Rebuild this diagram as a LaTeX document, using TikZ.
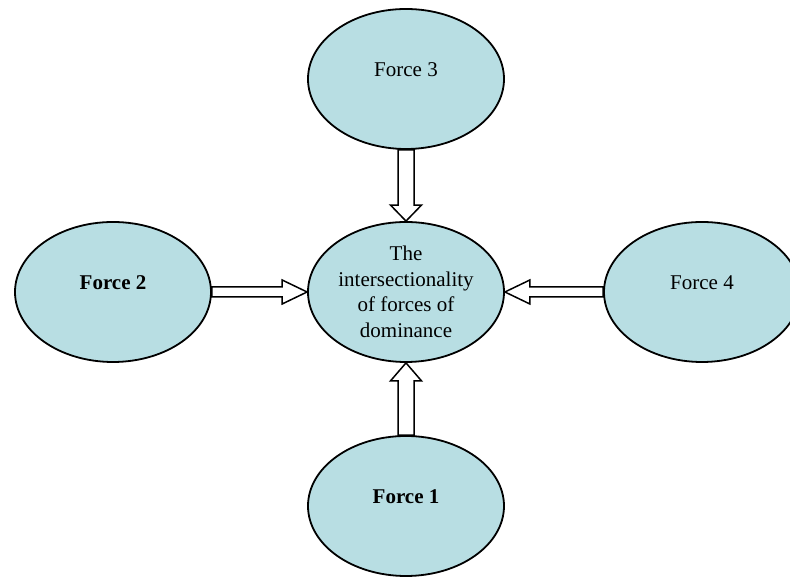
\documentclass[tikz,border=0pt]{standalone}
\usepackage{fontspec}
\setmainfont{Liberation Serif}
\usetikzlibrary{shapes.geometric,calc}

\definecolor{blobfill}{HTML}{B8DEE3}

\tikzset{
  blob/.style={ellipse, draw=black, line width=1.8pt, fill=blobfill,
    minimum width=196pt, minimum height=140pt, inner sep=0pt,
    font=\fontsize{21}{25.5}\selectfont},
  forcelbl/.style={text depth=18pt},
  fat/.style={draw=black, line width=1.5pt, fill=white, line join=miter},
}

\begin{document}
\begin{tikzpicture}[x=1pt, y=1pt]
  \useasboundingbox (0,0) rectangle (790,577);
  \clip (0,0) rectangle (790,577);
  \fill[white] (0,0) rectangle (790,577);

  % ellipses
  \node[blob, align=center] (c) at (406,285)
    {The\\intersectionality\\of forces of\\dominance};
  \node[blob, forcelbl] (f3) at (406,498) {Force 3};
  \node[blob, forcelbl] (f1) at (406,71) {\bfseries Force 1};
  \node[blob, forcelbl] (f2) at (113,285) {\bfseries Force 2};
  \node[blob, forcelbl] (f4) at (702,285) {Force 4};

  % Force 3 -> centre (downwards)
  \draw[fat] ($(f3.south)+(-8,0)$) -- ($(c.north)+(-8,16)$)
    -- ($(c.north)+(-15.5,16)$) -- (c.north) -- ($(c.north)+(15.5,16)$)
    -- ($(c.north)+(8,16)$) -- ($(f3.south)+(8,0)$) -- cycle;

  % Force 1 -> centre (upwards)
  \draw[fat] ($(f1.north)+(-8,0)$) -- ($(c.south)+(-8,-18)$)
    -- ($(c.south)+(-15.5,-18)$) -- (c.south) -- ($(c.south)+(15.5,-18)$)
    -- ($(c.south)+(8,-18)$) -- ($(f1.north)+(8,0)$) -- cycle;

  % Force 2 -> centre (rightwards)
  \draw[fat] ($(f2.east)+(0,5)$) -- ($(c.west)+(-25,5)$)
    -- ($(c.west)+(-25,12)$) -- (c.west) -- ($(c.west)+(-25,-12)$)
    -- ($(c.west)+(-25,-5)$) -- ($(f2.east)+(0,-5)$) -- cycle;

  % Force 4 -> centre (leftwards)
  \draw[fat] ($(f4.west)+(0,5)$) -- ($(c.east)+(25,5)$)
    -- ($(c.east)+(25,12)$) -- (c.east) -- ($(c.east)+(25,-12)$)
    -- ($(c.east)+(25,-5)$) -- ($(f4.west)+(0,-5)$) -- cycle;
\end{tikzpicture}
\end{document}
